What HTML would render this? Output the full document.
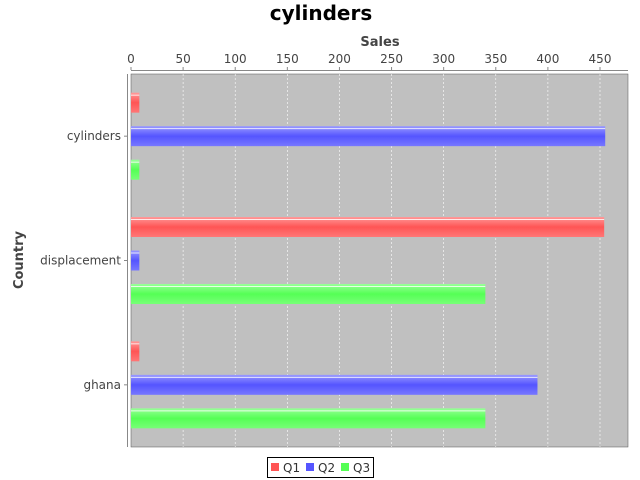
<!DOCTYPE html>
<html><head><meta charset="utf-8"><style>body{margin:0;background:#fff}svg{display:block;font-family:"DejaVu Sans","Liberation Sans",sans-serif}</style></head>
<body>
<svg id="c" width="640" height="480">
<defs>
<linearGradient id="g0" x1="0" y1="0" x2="0" y2="1"><stop offset="0" stop-color="#ff9999"/><stop offset="0.5" stop-color="#ff5555"/><stop offset="1" stop-color="#ff7777"/></linearGradient>
<linearGradient id="g1" x1="0" y1="0" x2="0" y2="1"><stop offset="0" stop-color="#9999ff"/><stop offset="0.5" stop-color="#5555ff"/><stop offset="1" stop-color="#7777ff"/></linearGradient>
<linearGradient id="g2" x1="0" y1="0" x2="0" y2="1"><stop offset="0" stop-color="#99ff99"/><stop offset="0.5" stop-color="#55ff55"/><stop offset="1" stop-color="#77ff77"/></linearGradient>
</defs>
<text x="321" y="20" text-anchor="middle" font-size="20" font-weight="bold">cylinders</text>
<text x="380" y="46" text-anchor="middle" font-size="13" font-weight="bold" fill="#444">Sales</text>
<text x="23" y="260" text-anchor="middle" font-size="13" font-weight="bold" fill="#444" transform="rotate(-90 23 260)">Country</text>
<rect x="131" y="74" width="497" height="373" fill="#c0c0c0" stroke="#555" stroke-width="0.5"/>
<g id="grid"></g><g id="bars"></g><g id="axes"></g>
<g>
<rect x="267.5" y="457.5" width="106" height="20" fill="#fff" stroke="#000"/>
<rect x="271" y="463" width="8" height="8" fill="#ff5555"/>
<text x="283" y="472" font-size="12" fill="#333">Q1</text>
<rect x="306" y="463" width="8" height="8" fill="#5555ff"/>
<text x="318" y="472" font-size="12" fill="#333">Q2</text>
<rect x="341" y="463" width="8" height="8" fill="#55ff55"/>
<text x="353" y="472" font-size="12" fill="#333">Q3</text>
</g>
</svg>
<script>
const categories = ["cylinders","displacement","ghana"];
const seriesNames = ["Q1","Q2","Q3"];
const q1 = [8, 454, 8];
const q2 = [455, 8, 390];
const q3 = [8, 340, 340];
const ticks = [0,50,100,150,200,250,300,350,400,450];
const NS="http://www.w3.org/2000/svg";
const L=131,T=74,B=447,scale=(600-131)/450;
const x=v=>L+v*scale;
function mk(t,a,p){const e=document.createElementNS(NS,t);for(const k in a)e.setAttribute(k,a[k]);p.appendChild(e);return e;}
const grid=document.getElementById('grid'),axes=document.getElementById('axes'),bars=document.getElementById('bars');
mk('line',{x1:L,y1:70.5,x2:628,y2:70.5,stroke:'#888'},axes);
ticks.forEach(t=>{
 if(t>0){const g=mk('line',{x1:x(t),y1:T,x2:x(t),y2:B,stroke:'#fff','stroke-dasharray':'2,2','stroke-width':0.6},grid);
 
 }
 mk('line',{x1:x(t),y1:67,x2:x(t),y2:70,stroke:'#888'},axes);
 const lb=mk('text',{x:x(t),y:63,'text-anchor':'middle','font-size':12,fill:'#444'},axes);lb.textContent=t;
 
 
});
mk('line',{x1:127.5,y1:T,x2:127.5,y2:B,stroke:'#888'},axes);
const series=[q1,q2,q3];
const catH=(B-T)/categories.length, barH=20, gap=13.5;
categories.forEach((c,i)=>{
 const cy=T+catH*(i+0.5);
 mk('line',{x1:124,y1:cy,x2:127,y2:cy,stroke:'#888'},axes);
 const lb=mk('text',{x:121,y:cy+4,'text-anchor':'end','font-size':12,fill:'#444'},axes);lb.textContent=c;
 
 
 series.forEach((s,j)=>{
  const y=cy+(j-1)*(barH+gap)-barH/2;
  const r=mk('rect',{x:L,y:y,width:x(s[i])-L,height:barH,fill:'url(#g'+j+')'},bars);
  
  
  mk('line',{x1:L,y1:y+2.5,x2:x(s[i]),y2:y+2.5,stroke:'#fff','stroke-opacity':0.8},bars);
 });
});
</script>
</body></html>
